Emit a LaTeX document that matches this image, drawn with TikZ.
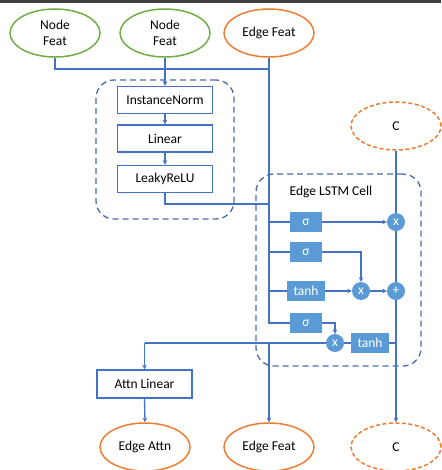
\documentclass[tikz,border=0pt]{standalone}
\usepackage{fontspec}
\setmainfont{Carlito}
\usetikzlibrary{shapes.geometric,arrows.meta}
\definecolor{lblue}{HTML}{4472C4}
\definecolor{fblue}{HTML}{5B9BD5}
\definecolor{gr}{HTML}{70AD47}
\definecolor{org}{HTML}{ED7D31}
\definecolor{dblue}{HTML}{4A6AAE}
\begin{document}
\begin{tikzpicture}[x=1pt,y=-1pt, font=\fontsize{13.5}{15.5}\selectfont,
 ell/.style={ellipse, draw, line width=1.5pt, minimum width=90pt, minimum height=48pt, align=center, inner sep=0pt},
 feat/.style={ell, draw=gr},
 efeat/.style={ell, draw=org},
 cst/.style={ell, draw=org, dash pattern=on 4pt off 2.5pt},
 box/.style={draw=lblue, line width=1.5pt, minimum width=95pt, minimum height=27pt, inner sep=0pt},
 gate/.style={fill=fblue, text=white, minimum width=32pt, minimum height=20pt, inner sep=0pt},
 op/.style={circle, fill=fblue, text=white, minimum size=18pt, inner sep=0pt},
 ln/.style={draw=lblue, line width=1.3pt},
 arr/.style={ln, -{Stealth[length=4.5pt,width=4.5pt]}},
 grp/.style={draw=dblue, line width=1.3pt, rounded corners=18pt, dash pattern=on 6pt off 4pt}
]
\useasboundingbox (0,0) rectangle (441,470);
\fill[black!75] (0,0) rectangle (441,3);

% group boxes
\node[grp, minimum width=138pt, minimum height=139pt] (g1) at (165,149.5) {};
\node[grp, minimum width=165pt, minimum height=192pt] (g2) at (338.5,270) {};
\node (lbl) at (331,192) {Edge LSTM Cell};

% inputs
\node[feat] (nf1) at (55,33) {Node\\Feat};
\node[feat] (nf2) at (165,33) {Node\\Feat};
\node[efeat] (ef) at (269,33) {Edge Feat};
\node[cst] (c1) at (396,126) {C};

% encoder
\node[box] (in) at (165,100) {InstanceNorm};
\node[box] (lin) at (165,138.5) {Linear};
\node[box] (lr) at (165,179) {LeakyReLU};

% LSTM
\node[gate] (s1) at (306,222) {σ};
\node[gate] (s2) at (306,252) {σ};
\node[gate, minimum width=38pt] (t1) at (306,291) {tanh};
\node[gate] (s3) at (306,323) {σ};
\node[gate, minimum width=38pt] (t2) at (370,343) {tanh};
\node[op] (m1) at (396,222) {x};
\node[op] (m2) at (361,291) {x};
\node[op] (p) at (396,291) {+};
\node[op] (m3) at (335,343) {x};

% outputs
\node[box, minimum height=28pt] (al) at (144.5,384) {Attn Linear};
\node[efeat] (ea) at (145,447) {Edge Attn};
\node[efeat] (ef2) at (269,447) {Edge Feat};
\node[cst] (c2) at (396,447) {C};

% coordinates
\coordinate (j0) at (269,69);
\coordinate (j1) at (269,204);
\coordinate (j2) at (269,323);
\coordinate (h0) at (269,343);
\coordinate (h1) at (144.5,343);

% connectors
\draw[ln] (nf1.south) |- (j0);
\draw[arr] (nf2.south) -- (in.north);
\draw[arr] (in.south) -- (lin.north);
\draw[arr] (lin.south) -- (lr.north);
\draw[ln] (ef.south) -- (j2) -- (s3.west);
\draw[ln] (lr.south) |- (j1);
\draw[ln] (s1.west -| j0) -- (s1.west);
\draw[ln] (s2.west -| j0) -- (s2.west);
\draw[ln] (t1.west -| j0) -- (t1.west);
\draw[arr] (s1.east) -- (m1.west);
\draw[arr] (s2.east) -| (m2.north);
\draw[arr] (t1.east) -- (m2.west);
\draw[arr] (m2.east) -- (p.west);
\draw[arr] (s3.east) -| (m3.north);
\draw[ln] (c1.south) -- (m1.north);
\draw[ln] (m1.south) -- (p.north);
\draw[arr] (p.south) -- (c2.north);
\draw[ln] (p.south |- t2.east) -- (t2.east);
\draw[ln] (t2.west) -- (m3.east);
\draw[ln] (m3.west) -- (h1);
\draw[arr] (h1) -- (al.north);
\draw[arr] (h0) -- (ef2.north);
\draw[arr] (al.south) -- (ea.north);
\end{tikzpicture}
\end{document}
